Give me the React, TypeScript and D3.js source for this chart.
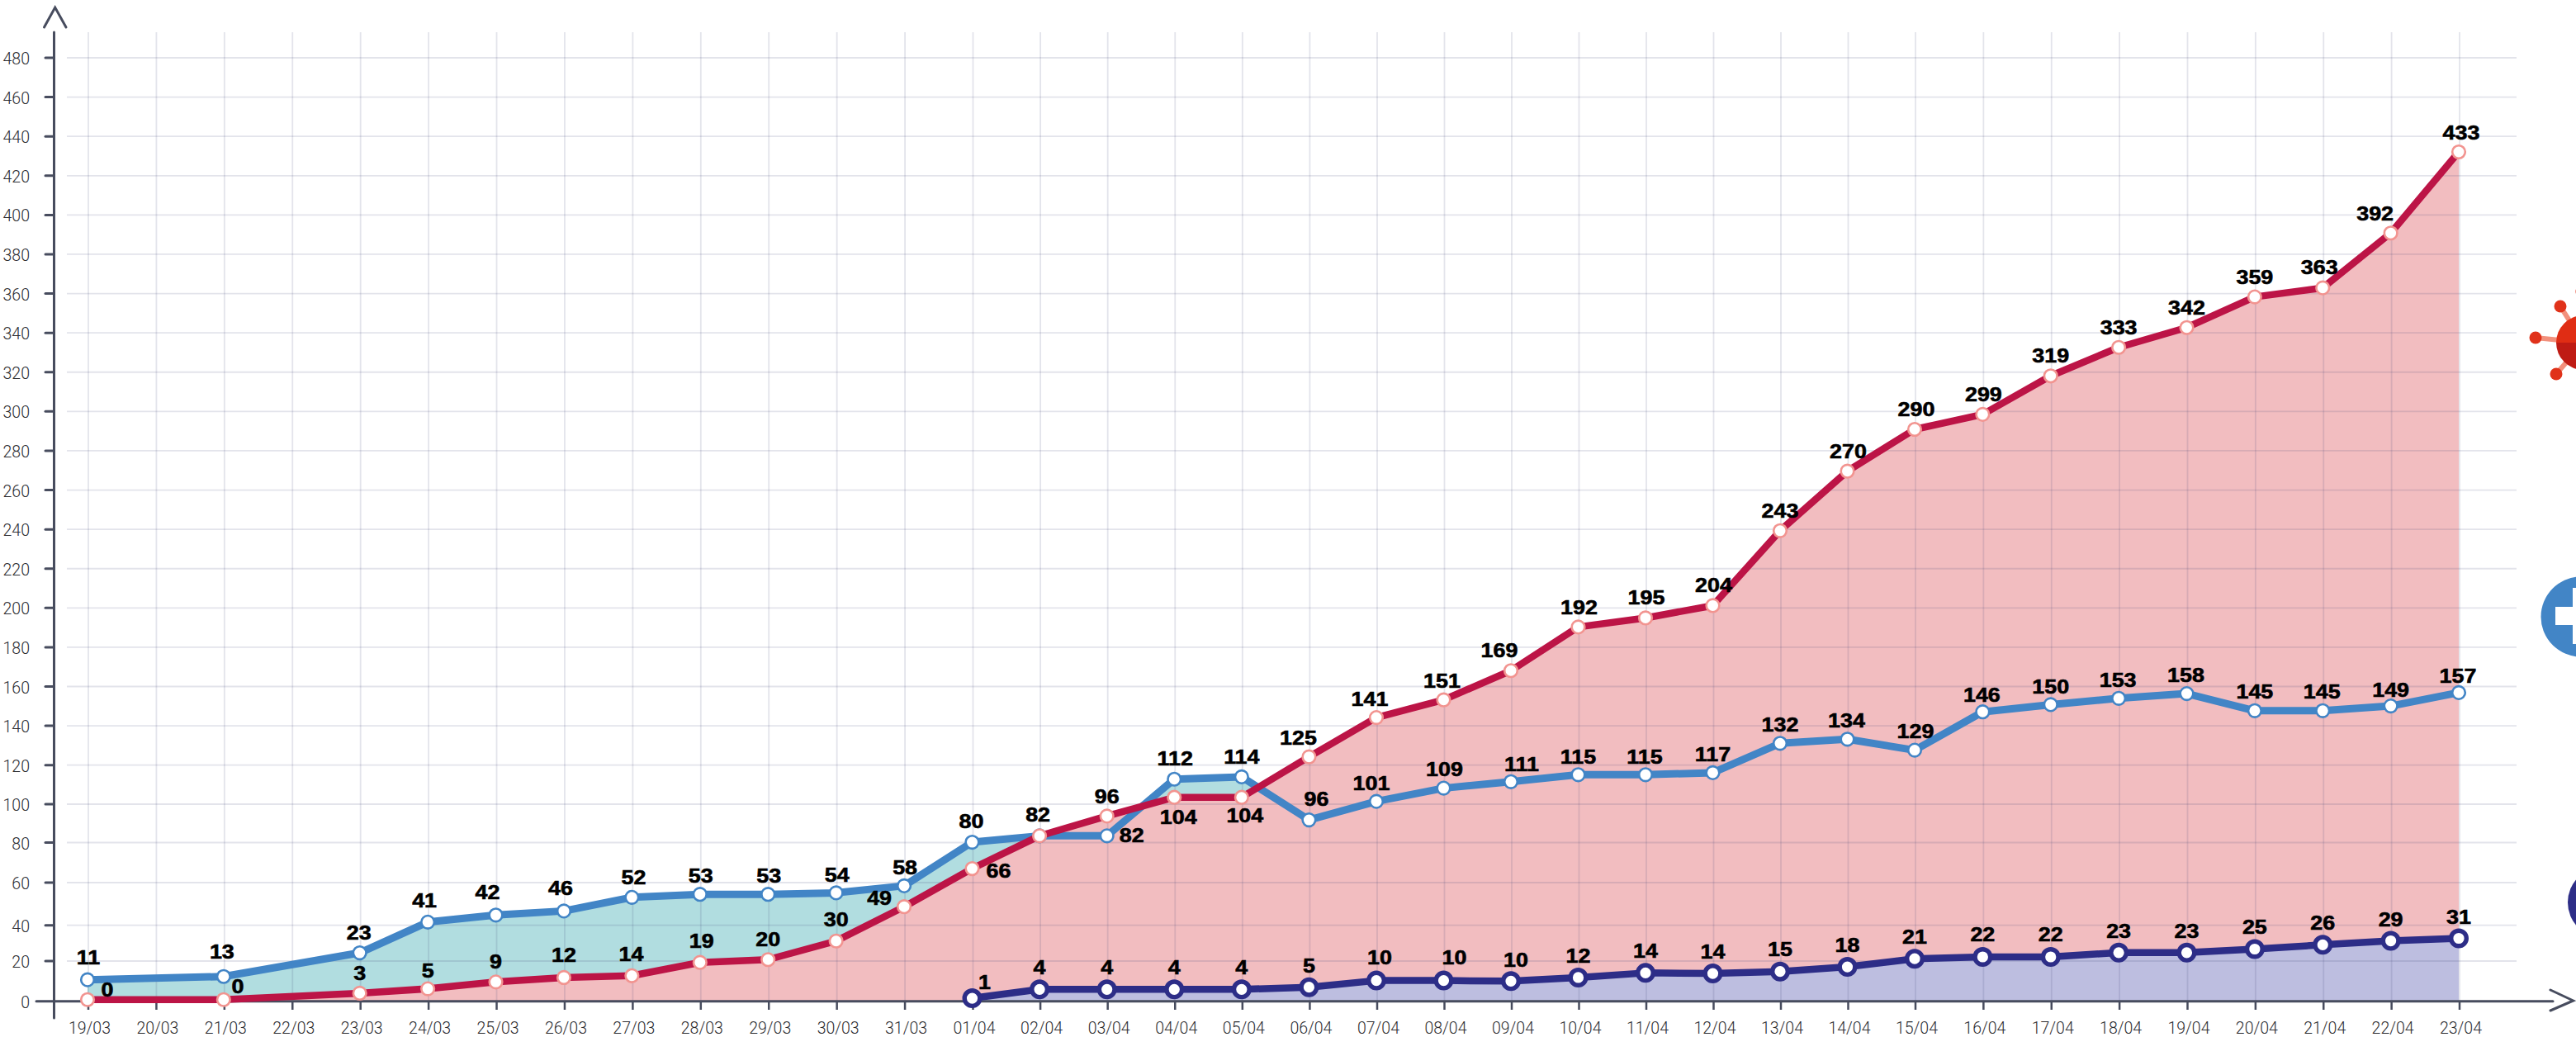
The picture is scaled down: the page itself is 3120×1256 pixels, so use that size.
import React from "react";
import * as d3 from "d3";

// ---------- data ----------
const dates = ["19/03","20/03","21/03","22/03","23/03","24/03","25/03","26/03","27/03","28/03","29/03","30/03","31/03",
  "01/04","02/04","03/04","04/04","05/04","06/04","07/04","08/04","09/04","10/04","11/04","12/04","13/04","14/04","15/04",
  "16/04","17/04","18/04","19/04","20/04","21/04","22/04","23/04"];

const recoveredPlot = [10.7,null,12.3,null,24.6,41.5,44.8,46.7,53.1,54.5,54.5,55.2,58.5,
  80.2,83.5,83.5,112.8,114,91.8,101.4,108.2,111.5,115.1,115.1,116.1,131.1,133.2,127.6,
  147.1,150.8,154,156.4,147.7,147.7,150.1,156.9];
const recoveredText = [11,null,13,null,23,41,42,46,52,53,53,54,58,
  80,82,82,112,114,96,101,109,111,115,115,117,132,134,129,
  146,150,153,158,145,145,149,157];

const casesPlot = [0.8,null,0.8,null,4,6.2,9.6,11.8,12.7,19.3,20.8,31.2,48.7,
  67,83.5,93.8,103.5,103.5,124.2,144.2,153.2,168.1,190.3,194.9,201.2,239.3,269.6,290.9,
  298.5,318.1,332.6,342.7,358.3,362.9,390.8,432.1];
const casesText = [0,null,0,null,3,5,9,12,14,19,20,30,49,
  66,null,96,104,104,125,141,151,169,192,195,204,243,270,290,
  299,319,333,342,359,363,392,433];

const deathsPlot = [null,null,null,null,null,null,null,null,null,null,null,null,null,
  1.5,5.9,5.9,5.9,5.9,7,10.3,10.3,10,11.8,14.1,13.8,14.8,17.1,21.3,
  22.3,22.3,24.7,24.7,26.7,29.1,31.3,32.7];
const deathsText = [null,null,null,null,null,null,null,null,null,null,null,null,null,
  1,4,4,4,4,5,10,10,10,12,14,14,15,18,21,
  22,22,23,23,25,26,29,31];

const yTicks = d3.range(0, 481, 20);

// ---------- layout ----------
const W = 3120, H = 1256;
const yKnots = [0, 20, 40, 60, 80, 100, 120, 480];
const yPixels = [1212.7, 1164, 1120.7, 1069, 1020.5, 974, 926.7, 70];
const xIndex = d3.scaleLinear().domain([0, 13, 19, 27, 35]).range([107, 1178.5, 1668, 2320, 2979]);
const x = (d: string) => xIndex(dates.indexOf(d));
const y = d3.scaleLinear().domain(yKnots).range(yPixels);

// label offsets from their marker: [dx, baseline dy]
const recoveredNudge = [[1,-19],null,[-2,-22],null,[-1,-16],[-4,-18],[-10,-19],[-4,-19],[2,-16],[1,-14],[1,-14],[1,-13],[1,-14],
  [-1,-17],[-2,-17],[30,8],[1,-17],[0,-16],[9,-17],[-6,-14],[1,-15],[13,-13],[0,-13],[-1,-13],[0,-14],[0,-14],[-1,-14],[1,-15],
  [-1,-12],[0,-13],[-1,-14],[-1,-14],[0,-15],[-1,-15],[0,-11],[-1,-12]];
const casesNudge = [[24,-4],null,[17,-8],null,[0,-16],[0,-14],[0,-16],[0,-19],[-1,-18],[2,-18],[0,-16],[0,-18],[-30,-2],
  [32,11],null,[0,-15],[5,32],[4,30],[-13,-15],[-8,-14],[-2,-15],[-14,-16],[1,-15],[1,-16],[1,-16],[0,-16],[1,-16],[2,-16],
  [1,-16],[0,-16],[0,-16],[0,-16],[0,-16],[-4,-17],[-19,-15],[3,-15]];
const deathsNudge = [null,null,null,null,null,null,null,null,null,null,null,null,null,
  [15,-11],[0,-18],[0,-18],[0,-18],[0,-18],[0,-18],[4,-20],[13,-20],[6,-17],[0,-18],[0,-18],[0,-18],[0,-19],[0,-18],[0,-18],
  [0,-19],[0,-19],[0,-18],[0,-18],[0,-18],[0,-18],[0,-18],[0,-18]];

const BLUE = "#4285c6", RED = "#bc1446", RED_RING = "#f29490", NAVY = "#2d2d87", AXIS = "#474c5e";
const lightFont = "Roboto, 'Liberation Sans', sans-serif";
const MARK_DX = -1;

type P = { date: string; v: number };
const pts = (vals: (number | null)[]): P[] =>
  dates.map((date, i) => ({ date, v: vals[i] as number })).filter((d) => d.v != null);

const lineGen = d3.line<P>().x((d) => x(d.date) + MARK_DX).y((d) => y(d.v));
const areaGen = d3.area<P>().x((d) => x(d.date) + MARK_DX).y0(y(0)).y1((d) => y(d.v));

function Labels({ vals, text, nudge }: { vals: (number | null)[]; text: (number | null)[]; nudge: any[] }) {
  return (
    <g fontFamily="'Liberation Sans', Arial, sans-serif" fontWeight={700} fontSize={24} fill="#000" stroke="#000" strokeWidth={0.6} textAnchor="middle">
      {dates.map((d, i) => {
        if (text[i] == null || vals[i] == null || !nudge[i]) return null;
        const px = x(d) + MARK_DX + nudge[i][0];
        const py = y(vals[i] as number) + nudge[i][1];
        return <text key={d} transform={`translate(${px},${py}) scale(1.12,1)`}>{text[i]}</text>;
      })}
    </g>
  );
}

function Series({ vals, color, ring, r, sw, w }: { vals: (number | null)[]; color: string; ring: string; r: number; sw: number; w: number }) {
  const data = pts(vals);
  return (
    <g>
      <path d={lineGen(data) as string} fill="none" stroke={color} strokeWidth={w} strokeLinejoin="round" />
      {data.map((d) => (
        <circle key={d.date} cx={x(d.date) + MARK_DX} cy={y(d.v)} r={r} fill="#fff" stroke={ring} strokeWidth={sw} />
      ))}
    </g>
  );
}

export default function App() {
  return (
    <svg width={W} height={H} viewBox={`0 0 ${W} ${H}`} style={{ position: "absolute", left: 0, top: 0, background: "#fff" }}>
      {/* areas */}
      <path d={areaGen(pts(recoveredPlot)) as string} fill="#b1dde0" />
      <path d={areaGen(pts(casesPlot)) as string} fill="#f2bdc0" />
      <path d={areaGen(pts(deathsPlot)) as string} fill="#bdbee0" />

      {/* grid */}
      <g stroke="#3c4070" strokeOpacity={0.14} strokeWidth={1.8}>
        {dates.map((d) => <line key={d} x1={x(d)} x2={x(d)} y1={39} y2={y(0)} />)}
        {yTicks.filter((t) => t > 0).map((t) => <line key={t} x1={81} x2={3048} y1={y(t)} y2={y(t)} />)}
      </g>

      {/* axes */}
      <g stroke={AXIS} fill="none" strokeLinecap="round">
        <line x1={65.5} x2={65.5} y1={39} y2={1233} strokeWidth={3} />
        <line x1={44} x2={3092} y1={y(0)} y2={y(0)} strokeWidth={3} />
        <polyline points="53.5,33 66.7,9 80,33" strokeWidth={3} />
        <polyline points="3089,1199 3116.7,1212 3089,1224" strokeWidth={3} />
        {yTicks.filter((t) => t > 0).map((t) => <line key={t} x1={55} x2={65} y1={y(t)} y2={y(t)} strokeWidth={3} />)}
        {dates.map((d) => <line key={d} x1={x(d)} x2={x(d)} y1={y(0)} y2={1223} strokeWidth={2.5} strokeLinecap="butt" />)}
      </g>
      <g fontFamily={lightFont} fontWeight={300} fontSize={19.5} fill="#2c2c30">
        {yTicks.map((t) => <text key={t} x={36} y={y(t) + 8} textAnchor="end">{t}</text>)}
        {dates.map((d) => <text key={d} x={x(d) + 1.5} y={1252} textAnchor="middle">{d}</text>)}
      </g>

      {/* series */}
      <Series vals={recoveredPlot} color={BLUE} ring={BLUE} r={7.8} sw={2.6} w={9} />
      <Series vals={casesPlot} color={RED} ring={RED_RING} r={7.8} sw={2.6} w={8.5} />
      <Series vals={deathsPlot} color={NAVY} ring={NAVY} r={9.3} sw={5.4} w={8.5} />

      <Labels vals={recoveredPlot} text={recoveredText} nudge={recoveredNudge} />
      <Labels vals={casesPlot} text={casesText} nudge={casesNudge} />
      <Labels vals={deathsPlot} text={deathsText} nudge={deathsNudge} />

      {/* legend icons, cut by the page edge */}
      <g>
        <g stroke="#f2907c" strokeWidth={6}>
          <line x1={3129} y1={415} x2={3071} y2={409} />
          <line x1={3129} y1={415} x2={3101} y2={371} />
          <line x1={3129} y1={415} x2={3096} y2={453} />
        </g>
        <g fill="#e0321a">
          <circle cx={3071} cy={409} r={7.5} />
          <circle cx={3101} cy={371} r={7.5} />
          <circle cx={3096} cy={453} r={7.5} />
          <circle cx={3127} cy={353} r={7.5} />
        </g>
        <path d={d3.arc()({ innerRadius: 0, outerRadius: 33, startAngle: -Math.PI / 2, endAngle: Math.PI / 2 }) as string} transform="translate(3129,415)" fill="#e02d14" />
        <path d={d3.arc()({ innerRadius: 0, outerRadius: 33, startAngle: Math.PI / 2, endAngle: (3 * Math.PI) / 2 }) as string} transform="translate(3129,415)" fill="#bf1b14" />
        <circle cx={3126} cy={747} r={48.5} fill={BLUE} />
        <rect x={3095} y={735} width={62} height={22} fill="#fff" />
        <rect x={3116} y={712} width={22} height={68} fill="#fff" />
        <circle cx={3153} cy={1093} r={43} fill={NAVY} />
      </g>
    </svg>
  );
}
